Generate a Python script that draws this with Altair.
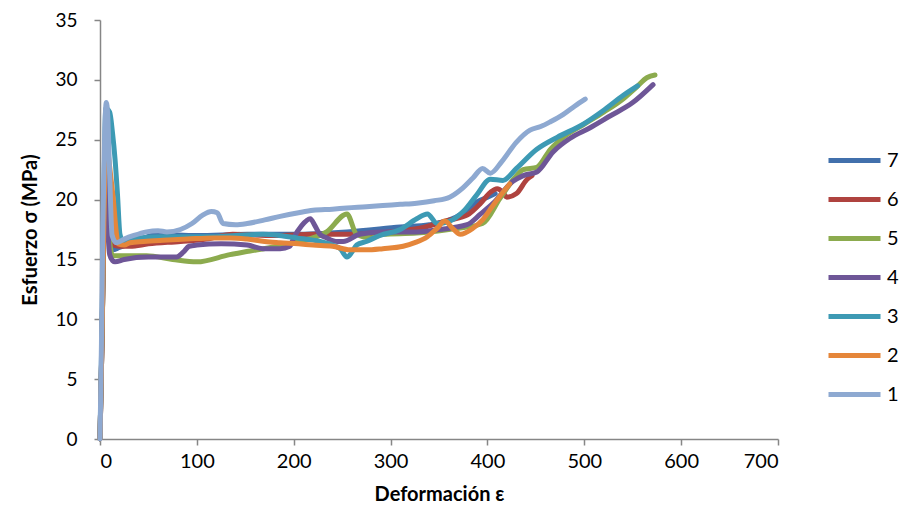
import altair as alt
import pandas as pd

series_names = ["7", "6", "5", "4", "3", "2", "1"]
series_colors = ["#4170AC", "#AF433F", "#8CAB4E", "#6E5697", "#3D9AB4", "#E5863A", "#8EA9D1"]

x_ticks = [0, 100, 200, 300, 400, 500, 600, 700]
y_ticks = [0, 5, 10, 15, 20, 25, 30, 35]

# Series 7 (dark blue)
x7 = [0, 2, 4, 6, 8, 11, 13, 20, 40, 59, 100, 152, 200, 255, 310, 340, 361, 375, 389, 400, 408]
y7 = [0, 8, 18, 24, 21, 17, 15.8, 16.0, 16.6, 17.1, 17.0, 17.1, 17.1, 17.3, 17.7, 17.9, 18.3, 18.9, 19.8, 20.2, 20.5]

# Series 6 (red)
x6 = [0, 2, 4, 6, 8, 11, 14, 20, 31, 50, 83, 110, 137, 180, 220, 241, 260, 300, 330, 361, 379, 393, 403, 410, 416, 420, 430, 441, 446]
y6 = [0, 8, 18, 24, 21, 18, 16.2, 16.1, 16.1, 16.3, 16.5, 16.7, 17.1, 17.0, 17.1, 17.1, 17.1, 17.3, 17.6, 18.3, 18.7, 19.7, 20.6, 20.9, 20.6, 20.2, 20.5, 21.7, 22.0]

# Series 5 (green)
x5 = [0, 2, 4, 6, 8, 10, 13, 20, 48, 75, 100, 134, 155, 200, 234, 255, 265, 280, 292, 327, 360, 395, 413, 428, 437, 451, 465, 480, 500, 520, 540, 554, 565, 573]
y5 = [0, 8, 17, 22, 19, 16.5, 15.3, 15.3, 15.3, 15.0, 14.8, 15.4, 15.7, 16.4, 17.3, 18.8, 17.1, 16.8, 17.1, 17.2, 17.5, 18.0, 20.1, 21.8, 22.5, 22.7, 24.2, 25.3, 26.3, 27.3, 28.4, 29.4, 30.2, 30.4]

# Series 4 (purple)
x4 = [0, 2, 4, 6, 8, 10, 13, 15.5, 25, 50, 79, 86, 92, 100, 125, 152, 168, 186, 196, 200, 208, 217, 222, 227, 234, 245, 251, 268, 292, 327, 350, 379, 393, 406, 426, 437, 451, 468, 485, 506, 527, 550, 571]
y4 = [0, 8, 18, 23.5, 18, 15.4, 14.9, 14.8, 15.0, 15.2, 15.2, 15.6, 16.1, 16.2, 16.3, 16.2, 15.9, 15.9, 16.1, 16.8, 17.8, 18.4, 17.8, 17.1, 16.8, 16.5, 16.5, 17.1, 17.3, 17.3, 17.5, 17.9, 18.8, 19.7, 21.5, 22.0, 22.3, 24.0, 25.1, 26.0, 27.0, 28.1, 29.6]

# Series 3 (teal)
x3 = [0, 2, 4, 6, 10, 13, 15.5, 18, 20.6, 24, 40, 65, 90, 117, 140, 168, 185, 203, 227, 240, 248, 255, 260, 265, 275, 289, 310, 327, 338, 348, 361, 375, 389, 403, 416, 430, 451, 472, 499, 519, 540, 555]
y3 = [0, 9, 20, 27.6, 27.3, 25.5, 23.4, 20.5, 17.1, 16.5, 16.8, 16.9, 16.9, 16.9, 17.0, 17.1, 17.0, 16.8, 16.5, 16.2, 15.9, 15.2, 15.6, 16.2, 16.5, 17.0, 17.5, 18.4, 18.8, 18.0, 18.2, 19.0, 20.4, 21.7, 21.6, 22.6, 24.2, 25.2, 26.3, 27.4, 28.7, 29.5]

# Series 2 (orange)
x2 = [0, 2, 4, 6, 8, 11, 14, 16.5, 19, 25, 31, 45, 65, 90, 117, 135, 152, 170, 186, 205, 220, 240, 258, 275, 292, 313, 325, 338, 348, 356, 364, 372, 385, 395, 403, 413, 423]
y2 = [0, 8, 18, 24.5, 24.0, 22, 19.8, 17.5, 16.3, 16.2, 16.4, 16.5, 16.6, 16.7, 16.8, 16.8, 16.7, 16.5, 16.4, 16.3, 16.2, 16.1, 15.8, 15.8, 15.9, 16.1, 16.4, 16.9, 17.6, 18.2, 17.6, 17.1, 17.6, 18.3, 19.2, 20.3, 21.3]

# Series 1 (light blue)
x1 = [0, 1.5, 3, 5, 6.5, 8, 10, 12.5, 17, 25, 35, 48, 60, 69, 83, 95, 106, 115, 121, 127, 140, 152, 170, 186, 205, 220, 240, 255, 275, 292, 310, 327, 345, 361, 375, 385, 395, 403, 415, 430, 444, 455, 465, 478, 490, 501]
y1 = [0, 8, 18, 26, 28.1, 27, 22, 17, 16.4, 16.7, 17.0, 17.3, 17.4, 17.3, 17.5, 18.0, 18.7, 19.0, 18.9, 18.0, 17.9, 18.0, 18.3, 18.6, 18.9, 19.1, 19.2, 19.3, 19.4, 19.5, 19.6, 19.7, 19.9, 20.2, 21.0, 21.8, 22.6, 22.2, 23.2, 24.8, 25.8, 26.1, 26.5, 27.1, 27.8, 28.4]

series_data = [("7", x7, y7), ("6", x6, y6), ("5", x5, y5), ("4", x4, y4),
               ("3", x3, y3), ("2", x2, y2), ("1", x1, y1)]

FONT = "Lato"
AXIS_GRAY = "#868686"

color_scale = alt.Scale(domain=series_names, range=series_colors)

layers = []
for name, xs, ys in series_data:
    df = pd.DataFrame({"x": xs, "y": ys, "s": name})
    layer = alt.Chart(df).mark_line(
        strokeWidth=5, interpolate="monotone", strokeCap="round", strokeJoin="round"
    ).encode(
        x=alt.X("x:Q", scale=alt.Scale(domain=[0, 700], nice=False),
                axis=alt.Axis(values=x_ticks, title="Deformación ε", titlePadding=13)),
        y=alt.Y("y:Q", scale=alt.Scale(domain=[0, 35], nice=False),
                axis=alt.Axis(values=y_ticks, title="Esfuerzo σ (MPa)", titlePadding=14,
                              labelFontSize=19)),
        color=alt.Color("s:N", scale=color_scale,
                        legend=alt.Legend(
                            title=None, orient="none", legendX=726, legendY=112,
                            symbolType="stroke", symbolSize=2704, symbolStrokeWidth=5,
                            labelFont=FONT, labelFontSize=20, labelColor="#000000",
                            labelOffset=4, rowPadding=-10.3,
                        )),
    )
    layers.append(layer)

chart = alt.layer(*layers).properties(
    width=678, height=419,
    autosize=alt.AutoSizeParams(type="none"),
    padding={"left": 92, "top": 12, "right": 126, "bottom": 80},
).configure_view(stroke=None).configure_axis(
    grid=False,
    domainColor=AXIS_GRAY, domainWidth=1.5,
    tickColor=AXIS_GRAY, tickWidth=1.5, tickSize=6,
    labelFont=FONT, labelFontSize=20, labelColor="#000000",
    titleFont=FONT, titleFontSize=20, titleFontWeight="bold", titleColor="#000000",
).configure_axisX(labelPadding=6).configure_axisY(labelPadding=17)

chart.save("out.html", embed_options={"renderer": "svg", "actions": False})
